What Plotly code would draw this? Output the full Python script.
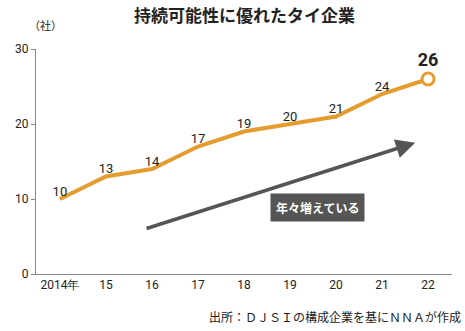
import plotly.graph_objects as go

years = [2014, 2015, 2016, 2017, 2018, 2019, 2020, 2021, 2022]
counts = [10, 13, 14, 17, 19, 20, 21, 24, 26]
tick_labels = ["2014年", "15", "16", "17", "18", "19", "20", "21", "22"]
y_ticks = [0, 10, 20, 30]

orange = "#E59C2E"
dark = "#555555"
num_font = "Liberation Sans Narrow, Roboto, Arial Narrow, sans-serif"
jp_font = "Noto Sans CJK JP, sans-serif"

fig = go.Figure()
fig.add_trace(go.Scatter(
    x=years, y=counts, mode="lines",
    line=dict(color=orange, width=4), hoverinfo="skip"))
fig.add_trace(go.Scatter(
    x=years[:-1], y=counts[:-1], mode="text",
    text=[str(v) for v in counts[:-1]], textposition="top center",
    textfont=dict(family=num_font, size=13, color="#222"), hoverinfo="skip"))
fig.add_trace(go.Scatter(
    x=[years[-1]], y=[counts[-1]], mode="markers+text",
    marker=dict(size=12, color="white", line=dict(color=orange, width=3)),
    text=["<b>" + str(counts[-1]) + "</b>"], textposition="top center",
    textfont=dict(family=num_font, size=18, color="#222"), hoverinfo="skip"))

# trend arrow
fig.add_annotation(x=2021.72, y=17.5, ax=2015.85, ay=6, xref="x", yref="y",
                   axref="x", ayref="y", showarrow=True, arrowhead=2,
                   arrowsize=1.1, arrowwidth=3.5, arrowcolor=dark, text="")
fig.add_annotation(x=2019.59, y=8.93, xref="x", yref="y", text="<b>年々増えている</b>",
                   showarrow=False, bgcolor=dark, borderpad=5,
                   font=dict(family=jp_font, size=12, color="white"))

fig.add_annotation(x=0.5, y=1, xref="paper", yref="paper", yanchor="middle",
                   xanchor="center", yshift=35,
                   text="<b>持続可能性に優れたタイ企業</b>", showarrow=False,
                   font=dict(family=jp_font, size=17, color="#222"))
fig.add_annotation(x=0, y=1, xref="paper", yref="paper", xanchor="center",
                   yanchor="middle", yshift=24, xshift=9,
                   text="（社）", showarrow=False,
                   font=dict(family=jp_font, size=11, color="#222"))
fig.add_annotation(x=1, y=0, xref="paper", yref="paper", xanchor="right",
                   yanchor="middle", yshift=-42, xshift=11,
                   text="出所：ＤＪＳＩの構成企業を基にＮＮＡが作成", showarrow=False,
                   font=dict(family=jp_font, size=12, color="#222"))

fig.update_layout(
    width=465, height=331, showlegend=False,
    margin=dict(l=36, r=13, t=49, b=57),
    plot_bgcolor="white", paper_bgcolor="white",
    xaxis=dict(range=[2013.48, 2022.52], tickvals=years, ticktext=tick_labels,
               showgrid=False, zeroline=False, showline=True, linecolor="#888",
               linewidth=1, ticks="", fixedrange=True,
               tickfont=dict(family=num_font, size=12, color="#222")),
    yaxis=dict(range=[0, 30], tickvals=y_ticks, showgrid=False, zeroline=False,
               showline=True, linecolor="#888", linewidth=1, ticks="outside",
               ticklen=4, tickcolor="#888",
               tickfont=dict(family=num_font, size=12, color="#222")),
)

fig.write_html("out.html")
